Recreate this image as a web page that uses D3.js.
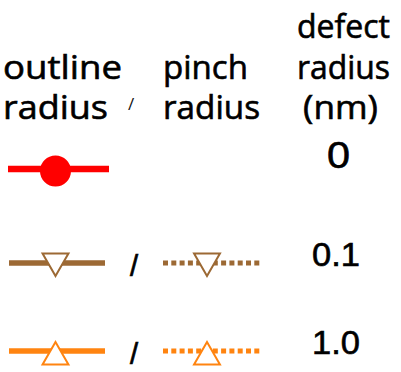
<!DOCTYPE html>
<html>
<head>
<meta charset="utf-8">
<script src="https://cdn.jsdelivr.net/npm/d3@7/dist/d3.min.js"></script>
<style>
  html, body { margin: 0; padding: 0; background: #fff; }
  svg { display: block; }
</style>
</head>
<body>
<svg id="legend" width="401" height="372"></svg>
<script>
// Legend entries: defect radius (nm) with line colour and marker per series
const defects = ["0", "0.1", "1.0"];
const colors = ["#ff0000", "#9c6934", "#ff8410"];
const symbols = ["circle", "triangleDown", "triangleUp"];
const hasPinch = [false, true, true];

// Header words per column
const headOutline = ["outline", "radius"];
const headPinch = ["pinch", "radius"];
const headDefect = ["defect", "radius", "(nm)"];

const svg = d3.select("#legend");

// Row positions and column positions
const y = d3.scaleOrdinal().domain(defects).range([169, 263, 351]);
const headY = d3.scaleOrdinal().domain([0, 1, 2]).range([38, 79, 119]);
const col = { solidX0: 9, solidX1: 105, markA: 55.5, slash: 134, dotX0: 163, dotX1: 260, markB: 207 };

const headFont = "'Open Sans', 'Segoe UI', sans-serif";

// Header text
function headerColumn(words, x, lines, widths) {
  svg.append("g").selectAll("text").data(words).join("text")
    .attr("x", (d, i) => x[i])
    .attr("y", (d, i) => headY(lines[i]))
    .attr("font-family", headFont)
    .attr("font-size", 32.5)
    .attr("fill", "#000")
    .attr("stroke", "#000")
    .attr("stroke-width", 0.6)
    .attr("textLength", (d, i) => widths[i])
    .attr("lengthAdjust", "spacingAndGlyphs")
    .text(d => d);
}
headerColumn(headOutline, [3, 3], [1, 2], [119, 105]);
headerColumn(headPinch, [163, 163], [1, 2], [85, 97]);
headerColumn(headDefect, [297, 297, 303], [0, 1, 2], [93, 93, 75]);

svg.append("text")
  .attr("x", 128).attr("y", 110)
  .attr("font-family", headFont).attr("font-size", 17)
  .attr("fill", "#111")
  .text("/");

const rows = defects.map((d, i) => ({ d, color: colors[i], sym: symbols[i], pinch: hasPinch[i] }));

const symType = { circle: d3.symbolCircle, triangleDown: d3.symbolTriangle, triangleUp: d3.symbolTriangle };

const g = svg.append("g").selectAll("g").data(rows).join("g");

// Solid outline-radius line
g.append("line")
  .attr("x1", r => r.sym === "circle" ? 8 : col.solidX0)
  .attr("x2", r => r.sym === "circle" ? 109 : col.solidX1)
  .attr("y1", r => y(r.d)).attr("y2", r => y(r.d))
  .attr("stroke", r => r.color)
  .attr("stroke-width", r => r.sym === "circle" ? 6.5 : 5.5);

// Dotted pinch-radius line
g.filter(r => r.pinch).append("line")
  .attr("x1", col.dotX0).attr("x2", col.dotX1)
  .attr("y1", r => y(r.d)).attr("y2", r => y(r.d))
  .attr("stroke", r => r.color)
  .attr("stroke-width", 5)
  .attr("stroke-dasharray", "5 3.3");

// Slash between the two line styles
g.filter(r => r.pinch).append("text")
  .attr("x", col.slash).attr("y", r => y(r.d) + 12.5)
  .attr("text-anchor", "middle")
  .attr("font-family", "'Liberation Sans', Arial, sans-serif")
  .attr("font-size", 29)
  .attr("fill", "#000")
  .attr("stroke", "#000")
  .attr("stroke-width", 0.7)
  .text("/");

function marker(sel, x) {
  sel.append("path")
    .attr("d", r => r.sym === "circle"
      ? d3.symbol(symType[r.sym], 755)()
      : d3.symbol(symType[r.sym], 290)())
    .attr("transform", r => {
      if (r.sym === "circle") return `translate(${x},${y(r.d) + 2})`;
      if (r.sym === "triangleDown") return `translate(${x},${y(r.d) - 2}) rotate(180)`;
      return `translate(${x},${y(r.d) + 6})`;
    })
    .attr("fill", r => r.sym === "circle" ? r.color : "#fff")
    .attr("stroke", r => r.color)
    .attr("stroke-width", r => r.sym === "circle" ? 0 : 2);
}
marker(g, col.markA);
marker(g.filter(r => r.pinch), col.markB);

// Defect radius values
g.append("text")
  .attr("x", (r, i) => i === 0 ? 327 : 312)
  .attr("y", (r, i) => i === 0 ? y(r.d) - 1 : y(r.d) + 3)
  .attr("font-family", "'Liberation Sans', Arial, sans-serif")
  .attr("font-size", (r, i) => i === 0 ? 37 : 33)
  .attr("fill", "#000")
  .attr("stroke", "#000")
  .attr("stroke-width", 0.6)
  .attr("textLength", (r, i) => i === 0 ? 23 : 48)
  .attr("lengthAdjust", "spacingAndGlyphs")
  .text(r => r.d);
</script>
</body>
</html>
